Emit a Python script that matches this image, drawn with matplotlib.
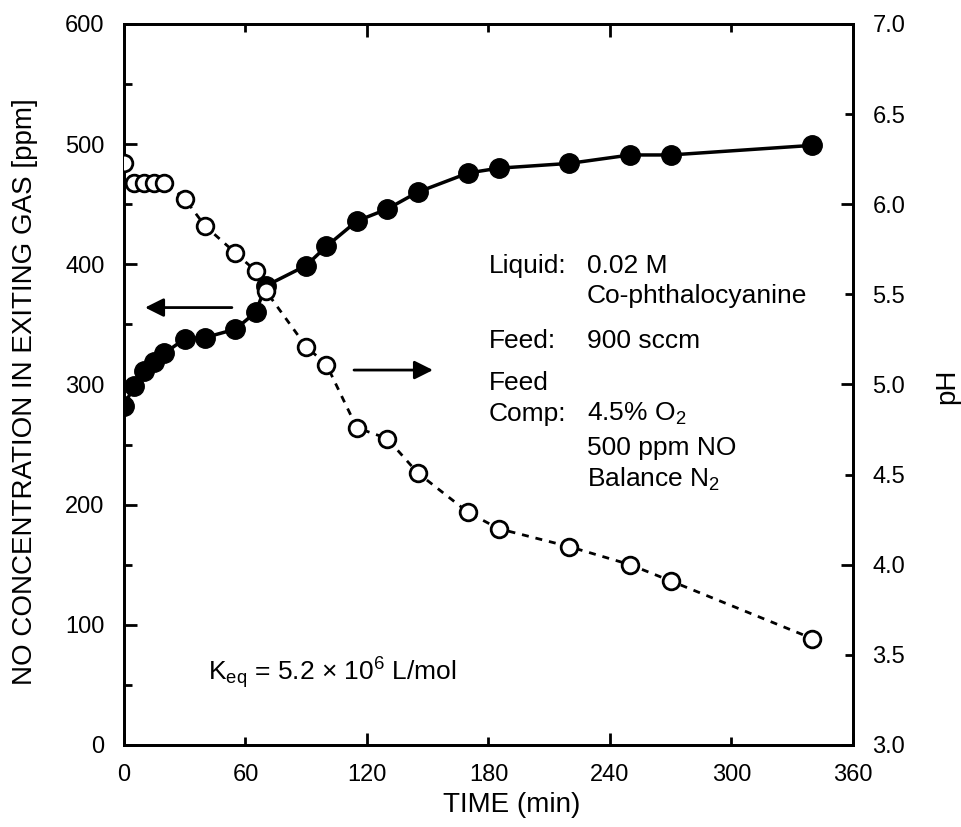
import numpy as np
import matplotlib.pyplot as plt

plt.rcParams['font.family'] = ['Liberation Sans', 'DejaVu Sans']
plt.rcParams['mathtext.fontset'] = 'custom'
plt.rcParams['mathtext.rm'] = 'Liberation Sans'
plt.rcParams['mathtext.it'] = 'Liberation Sans'

time_min = [0, 5, 10, 15, 20, 30, 40, 55, 65, 70, 90, 100, 115, 130, 145,
            170, 185, 220, 250, 270, 340]
no_ppm = [282, 299, 311, 319, 326, 338, 339, 346, 360, 382, 399, 415, 436,
          446, 460, 476, 480, 484, 491, 491, 499]
ph = [6.23, 6.12, 6.12, 6.12, 6.12, 6.03, 5.88, 5.73, 5.63, 5.52, 5.21, 5.11,
      4.76, 4.70, 4.51, 4.29, 4.20, 4.10, 4.00, 3.91, 3.59]

fig = plt.figure(figsize=(9.61, 8.27), dpi=100)
ax = fig.add_axes([0.129, 0.0992, 0.7586, 0.8718])
ax2 = ax.twinx()

ax.plot(time_min, no_ppm, '-', color='black', lw=2.5, marker='o',
        ms=14, mfc='black', mec='black', zorder=3)
ax2.plot(time_min, ph, color='black', lw=2, ls=(0, (2.5, 2.5)), marker='o',
         ms=12, mfc='white', mec='black', mew=2, zorder=4)

ax.set_xlim(0, 360)
ax.set_ylim(0, 600)
ax2.set_ylim(3.0, 7.0)

ax.set_xticks([0, 120, 240, 360])
ax.set_xticks([60, 180, 300], minor=True)
ax.set_xticklabels(['0', '120', '240', '360'])
ax.set_xticklabels(['60', '180', '300'], minor=True)
ax.set_yticks(np.arange(0, 601, 100))
ax.set_yticks(np.arange(50, 600, 100), minor=True)
ax2.set_yticks([3, 4, 5, 6, 7])
ax2.set_yticklabels(['3.0', '4.0', '5.0', '6.0', '7.0'])
ax2.set_yticks([3.5, 4.5, 5.5, 6.5], minor=True)
ax2.set_yticklabels(['3.5', '4.5', '5.5', '6.5'], minor=True)

for a in (ax, ax2):
    a.tick_params(which='both', direction='in', labelsize=17, width=2,
                  top=True, pad=14)
    a.tick_params(which='major', length=9)
    a.tick_params(which='minor', length=6)
    for s in a.spines.values():
        s.set_linewidth(2)
ax.tick_params(which='both', right=False)
ax2.tick_params(which='both', left=False, right=True)

lab = dict(fontsize=20, ha='center', va='center', rotation_mode='default')
ax.set_xlabel('TIME (min)', **lab)
ax.xaxis.set_label_coords(0.532, -0.083)
ax.set_ylabel('NO CONCENTRATION IN EXITING GAS [ppm]', **lab)
ax.yaxis.set_label_coords(-0.136, 0.49)
ax2.set_ylabel('pH', **lab)
ax2.yaxis.set_label_coords(1.129, 0.497)

fs = 19
xl, xv = 180.2, 228.6
ax.text(xl, 393, 'Liquid:', fontsize=fs)
ax.text(xv, 393, '0.02 M', fontsize=fs)
ax.text(xv, 368, 'Co-phthalocyanine', fontsize=fs)
ax.text(xl, 330, 'Feed:', fontsize=fs)
ax.text(xv, 330, '900 sccm', fontsize=fs)
ax.text(xl, 295, 'Feed', fontsize=fs)
ax.text(xl, 270, 'Comp:', fontsize=fs)
ax.text(xv, 270, r'4.5% O$_\mathregular{2}$', fontsize=fs)
ax.text(xv, 241, '500 ppm NO', fontsize=fs)
ax.text(xv, 215, r'Balance N$_\mathregular{2}$', fontsize=fs)

ax.text(41.5, 54, r'K$_\mathregular{eq}$ = 5.2 × 10$^\mathregular{6}$ L/mol',
        fontsize=fs)

ax.annotate('', xy=(10.4, 364), xytext=(53.3, 364),
            arrowprops=dict(arrowstyle='-|>', mutation_scale=28, lw=2,
                            color='black', shrinkA=0, shrinkB=0))
ax.annotate('', xy=(152.6, 312), xytext=(113.6, 312),
            arrowprops=dict(arrowstyle='-|>', mutation_scale=28, lw=2,
                            color='black', shrinkA=0, shrinkB=0))

fig.savefig('out.png', dpi=100)
